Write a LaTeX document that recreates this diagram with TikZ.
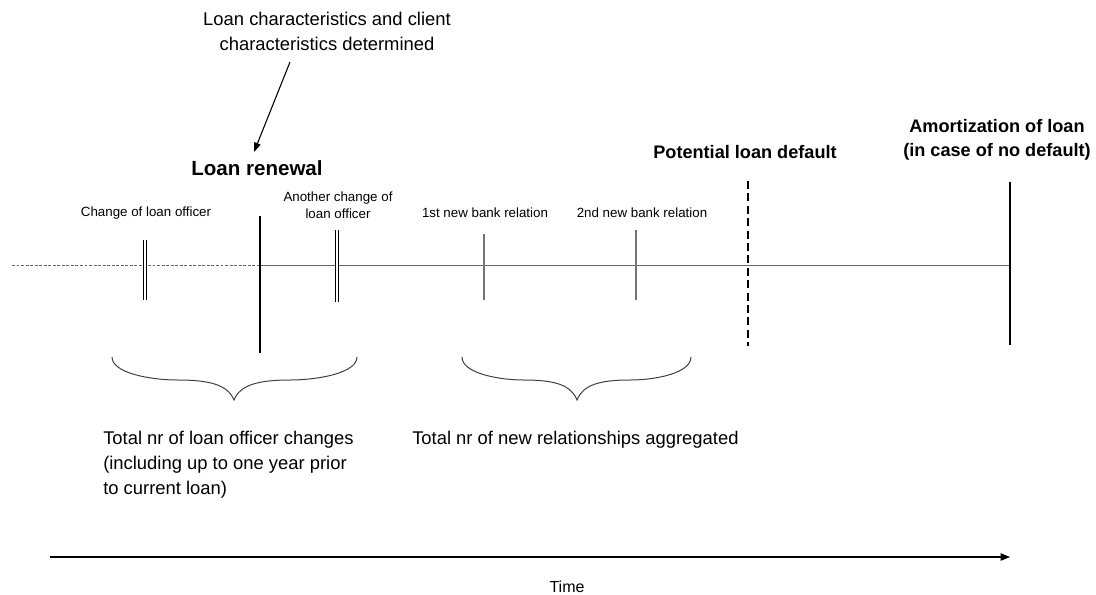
\documentclass[tikz,border=0pt]{standalone}
\usepackage{fontspec}
\setmainfont{Liberation Sans}
\usetikzlibrary{arrows.meta}
\begin{document}
\begin{tikzpicture}[x=0.75pt,y=-0.75pt,
  big/.style={font=\fontsize{13.8}{18.75}\selectfont,inner sep=0pt,align=center},
  bigbold/.style={font=\fontsize{13.6}{18}\selectfont\bfseries,inner sep=0pt,align=center},
  small/.style={font=\fontsize{10}{12.6}\selectfont,inner sep=0pt,align=center},
  timeline/.style={draw=black!60,line width=0.75pt},
  thickmark/.style={draw=black,line width=2.1pt},
  dblmark/.style={draw=black,double=white,double distance=1.6pt,line width=1pt},
  thinmark/.style={draw=black!55,line width=0.9pt},
  bracestyle/.style={draw=black!75,line width=0.75pt}]
\useasboundingbox (0,0) rectangle (1096,594);

% timeline
\coordinate (tl0) at (12,265);
\coordinate (tl1) at (260,265);
\coordinate (tl2) at (1010,265);
\draw[timeline,dash pattern=on 2.2pt off 1.2pt] (tl0) -- (tl1);
\draw[timeline] (tl1) -- (tl2);

% change of loan officer
\coordinate (c1t) at (145,240);
\coordinate (c1b) at (145,300);
\draw[dblmark] (c1t) -- (c1b);
\node[small] (c1l) at (146,213) {Change of loan officer};

% loan renewal
\coordinate (lrt) at (260,216);
\coordinate (lrb) at (260,353);
\draw[thickmark] (lrt) -- (lrb);
\node[bigbold,font=\fontsize{15.4}{18}\selectfont\bfseries] (lrl) at (257,168) {Loan renewal};

% another change
\coordinate (c2t) at (337,230);
\coordinate (c2b) at (337,302);
\draw[dblmark] (c2t) -- (c2b);
\node[small] (c2l) at (338,205) {Another change of\\loan officer};

% bank relations
\coordinate (b1t) at (484,234);
\coordinate (b1b) at (484,300);
\draw[thinmark] (b1t) -- (b1b);
\node[small] (b1l) at (485,213) {1st new bank relation};
\coordinate (b2t) at (636,230);
\coordinate (b2b) at (636,300);
\draw[thinmark] (b2t) -- (b2b);
\node[small] (b2l) at (642,213) {2nd new bank relation};

% potential default
\coordinate (pdt) at (748,181);
\coordinate (pdb) at (748,346);
\draw[draw=black,line width=2.1pt,dash pattern=on 6pt off 3.3pt] (pdt) -- (pdb);
\node[bigbold] (pdl) at (745,152) {Potential loan default};

% amortization
\coordinate (amt) at (1010,182);
\coordinate (amb) at (1010,345);
\draw[thickmark] (amt) -- (amb);
\node[bigbold] (aml) at (997,140) {Amortization of loan\\(in case of no default)};

% characteristics arrow
\node[big] (chl) at (327,31.5) {Loan characteristics and client\\characteristics determined};
\coordinate (cha) at (290,62);
\coordinate (chb) at (254,152);
\draw[line width=0.8pt,-{Triangle[length=7pt,width=5pt]}] (cha) -- (chb);

% braces
\draw[bracestyle] (112,357) .. controls (112,373) and (150,380) .. (178,380)
  .. controls (210,380) and (228,385) .. (234,400)
  .. controls (240,385) and (258,380) .. (290,380)
  .. controls (318,380) and (357,373) .. (357,357);
\coordinate (br1) at (234,400);
\draw[bracestyle] (462,357) .. controls (462,373) and (498,380) .. (524,380)
  .. controls (555,380) and (571,385) .. (577,400)
  .. controls (583,385) and (599,380) .. (630,380)
  .. controls (656,380) and (691,373) .. (691,357);
\coordinate (br2) at (577,400);

\node[big,align=left,anchor=west] (t1) at (103,465) {Total nr of loan officer changes\\(including up to one year prior\\to current loan)};
\node[big,anchor=west] (t2) at (412,440) {Total nr of new relationships aggregated};

% time arrow
\coordinate (ta0) at (50,557);
\coordinate (ta1) at (1010,557);
\draw[line width=0.8pt,-{Triangle[length=7pt,width=5.5pt]}] (ta0) -- (ta1);
\node[font=\fontsize{12}{14}\selectfont,inner sep=0pt] (time) at (567,587) {Time};
\end{tikzpicture}
\end{document}
